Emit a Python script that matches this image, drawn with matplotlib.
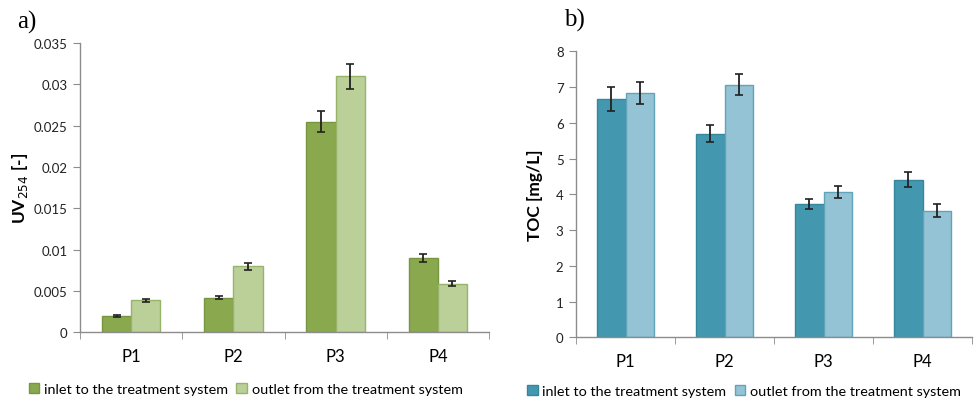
import matplotlib
matplotlib.use('Agg')
import matplotlib.pyplot as plt
import numpy as np

plt.rcParams['font.family'] = ['Lato', 'DejaVu Sans']

# data
sites = ['P1', 'P2', 'P3', 'P4']
series = ['inlet to the treatment system', 'outlet from the treatment system']

uv_inlet = [0.0020, 0.0042, 0.0255, 0.0090]
uv_inlet_err = [0.0001, 0.0002, 0.0013, 0.0005]
uv_outlet = [0.0039, 0.0080, 0.0310, 0.0059]
uv_outlet_err = [0.0002, 0.0004, 0.0015, 0.0003]

toc_inlet = [6.67, 5.70, 3.73, 4.41]
toc_inlet_err = [0.33, 0.23, 0.15, 0.21]
toc_outlet = [6.83, 7.07, 4.07, 3.54]
toc_outlet_err = [0.31, 0.30, 0.17, 0.18]

# colors and stuff
green_in, green_in_edge = '#8aa84e', '#76973f'
green_out, green_out_edge = '#bbcf99', '#98b46a'
blue_in, blue_in_edge = '#4398af', '#36869c'
blue_out, blue_out_edge = '#93c3d4', '#5fa4b8'
spine_col = '#8c8c8c'

fig = plt.figure(figsize=(9.75, 4.02), dpi=100, facecolor='white')
ax1 = fig.add_axes([0.0821, 0.1704, 0.4194, 0.7201])
ax2 = fig.add_axes([0.5908, 0.1585, 0.4062, 0.7114])

def draw(ax, v1, e1, v2, e2, c1, ec1, c2, ec2):
    x = np.arange(len(sites))
    w = 0.285
    b1 = ax.bar(x - w/2, v1, w, color=c1, edgecolor=ec1, linewidth=1.0, label=series[0])
    b2 = ax.bar(x + w/2, v2, w, color=c2, edgecolor=ec2, linewidth=1.0, label=series[1])
    ax.errorbar(x - w/2, v1, yerr=e1, fmt='none', ecolor='#222222', elinewidth=1.3, capsize=3, capthick=1.2)
    ax.errorbar(x + w/2, v2, yerr=e2, fmt='none', ecolor='#222222', elinewidth=1.3, capsize=3, capthick=1.2)
    ax.set_xlim(-0.5, len(sites) - 0.5)
    ax.set_xticks(x)
    ax.set_xticklabels(sites, fontsize=12)
    ax.set_xticks(np.arange(len(sites) + 1) - 0.5, minor=True)
    ax.tick_params(axis='x', which='major', length=0, pad=11)
    ax.tick_params(axis='x', which='minor', length=5, color=spine_col, direction='out')
    ax.tick_params(axis='y', length=5, color=spine_col, labelsize=9.5, labelcolor='#222222', pad=4)
    for s in ['top', 'right']:
        ax.spines[s].set_visible(False)
    for s in ['left', 'bottom']:
        ax.spines[s].set_color(spine_col)
        ax.spines[s].set_linewidth(1.0)
    return b1, b2

b1, b2 = draw(ax1, uv_inlet, uv_inlet_err, uv_outlet, uv_outlet_err,
              green_in, green_in_edge, green_out, green_out_edge)
ax1.set_ylim(0, 0.035)
ax1.set_yticks(np.arange(0, 0.0351, 0.005))
ax1.set_yticklabels(['0', '0.005', '0.01', '0.015', '0.02', '0.025', '0.03', '0.035'])
ax1.set_ylabel('UV$_{254}$ [-]', fontsize=12.5, fontweight='bold', labelpad=3)

b3, b4 = draw(ax2, toc_inlet, toc_inlet_err, toc_outlet, toc_outlet_err,
              blue_in, blue_in_edge, blue_out, blue_out_edge)
ax2.set_ylim(0, 8)
ax2.set_yticks(range(0, 9))
ax2.set_ylabel('TOC [mg/L]', fontsize=12.5, fontweight='bold', labelpad=9)

fig.legend(handles=[b1, b2], labels=series, loc='center left', bbox_to_anchor=(0.016, 0.03),
           ncol=2, frameon=False, fontsize=10.4, handlelength=0.75, handleheight=0.75,
           handletextpad=0.3, columnspacing=0.6)
fig.legend(handles=[b3, b4], labels=series, loc='center left', bbox_to_anchor=(0.527, 0.025),
           ncol=2, frameon=False, fontsize=10.4, handlelength=0.75, handleheight=0.75,
           handletextpad=0.3, columnspacing=0.6)

fig.text(0.018, 0.945, 'a)', fontsize=18, family='Liberation Serif', va='center')
fig.text(0.578, 0.95, 'b)', fontsize=18, family='Liberation Serif', va='center')

fig.savefig('out.png', dpi=100)
